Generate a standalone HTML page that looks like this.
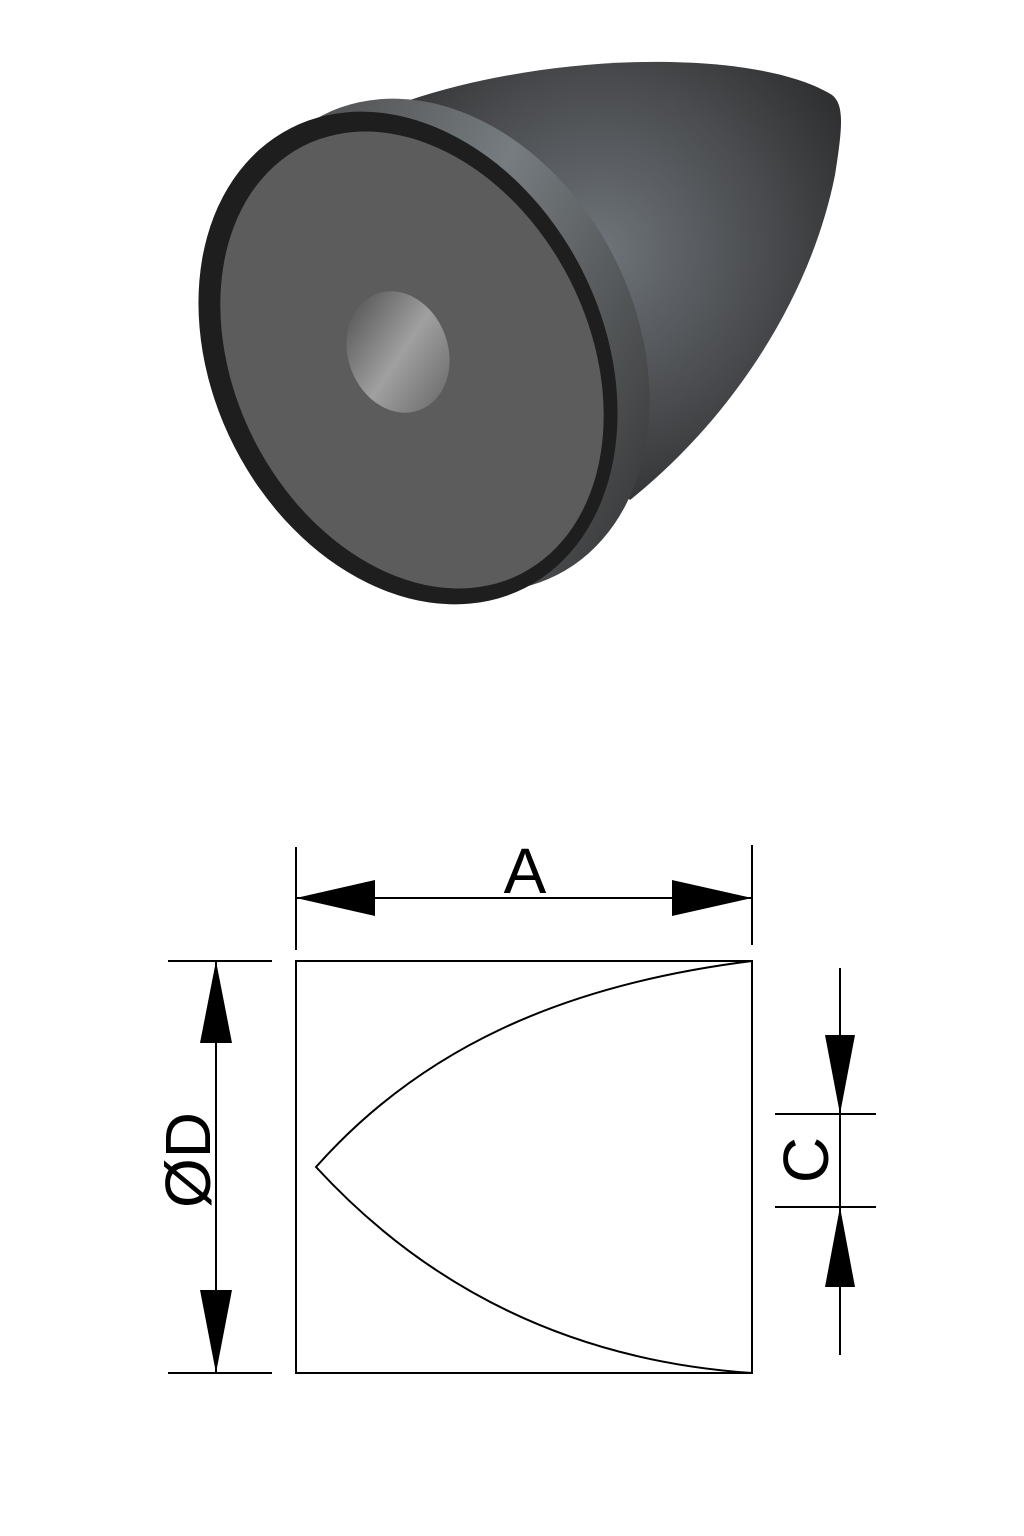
<!DOCTYPE html>
<html><head><style>html,body{margin:0;padding:0;background:#fff;width:1024px;height:1536px;overflow:hidden}</style></head>
<body>
<svg width="1024" height="1536" viewBox="0 0 1024 1536" xmlns="http://www.w3.org/2000/svg">
<defs>
<radialGradient id="bg" cx="600" cy="250" r="330" gradientUnits="userSpaceOnUse">
<stop offset="0" stop-color="#6e7479"/><stop offset="0.5" stop-color="#4a4c4f"/><stop offset="1" stop-color="#222"/>
</radialGradient>
<linearGradient id="fl" x1="300" y1="100" x2="640" y2="560" gradientUnits="userSpaceOnUse">
<stop offset="0" stop-color="#444"/><stop offset="0.45" stop-color="#767c80"/><stop offset="1" stop-color="#333"/>
</linearGradient>
<linearGradient id="hole" x1="360" y1="300" x2="440" y2="410" gradientUnits="userSpaceOnUse">
<stop offset="0" stop-color="#5a5a5a"/><stop offset="0.5" stop-color="#a0a0a0"/><stop offset="1" stop-color="#6a6a6a"/>
</linearGradient>
</defs>
<!-- body -->
<path d="M410 100 C560 50 760 50 832 95 C845 105 842 130 835 175 C810 300 730 420 630 500 L500 380 Z" fill="url(#bg)"/>
<!-- flange -->
<ellipse cx="440" cy="345" rx="195" ry="258" transform="rotate(-27 440 345)" fill="url(#fl)"/>
<!-- face -->
<ellipse cx="408" cy="358" rx="195" ry="258" transform="rotate(-27 408 358)" fill="#1e1e1e"/>
<ellipse cx="412" cy="360" rx="177" ry="240" transform="rotate(-27 412 360)" fill="#5c5c5c"/>
<ellipse cx="398" cy="352" rx="50" ry="62" transform="rotate(-20 398 352)" fill="url(#hole)"/>
<!-- drawing -->
<g stroke="#000" stroke-width="2" fill="none">
<rect x="296" y="961" width="456" height="412"/>
<path d="M752 961 C560 985 420 1050 316 1167 C420 1280 560 1360 752 1373"/>
<line x1="296" y1="847" x2="296" y2="950"/>
<line x1="752" y1="845" x2="752" y2="945"/>
<line x1="296" y1="898" x2="752" y2="898"/>
<line x1="168" y1="961" x2="272" y2="961"/>
<line x1="168" y1="1373" x2="272" y2="1373"/>
<line x1="216" y1="961" x2="216" y2="1373"/>
<line x1="840" y1="968" x2="840" y2="1355"/>
<line x1="775" y1="1114" x2="876" y2="1114"/>
<line x1="775" y1="1207" x2="876" y2="1207"/>
</g>
<g fill="#000">
<polygon points="296,898 375,880 375,916"/>
<polygon points="752,898 672,880 672,916"/>
<polygon points="216,961 200,1043 232,1043"/>
<polygon points="216,1373 200,1290 232,1290"/>
<polygon points="840,1114 825,1035 855,1035"/>
<polygon points="840,1207 825,1287 855,1287"/>
</g>
<g font-family="Liberation Sans, sans-serif" font-size="64" fill="#000">
<text x="525" y="893" text-anchor="middle">A</text>
<text x="0" y="0" text-anchor="middle" transform="translate(210 1160) rotate(-90)">ØD</text>
<text x="0" y="0" text-anchor="middle" transform="translate(828 1160) rotate(-90)">C</text>
</g>
</svg>
</body></html>
